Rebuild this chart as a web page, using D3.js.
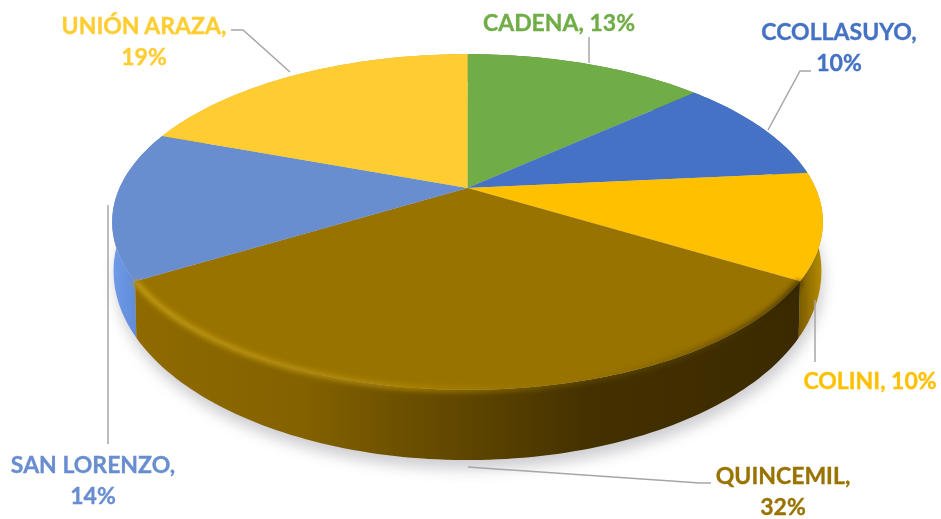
<!DOCTYPE html>
<html><head><meta charset="utf-8">
<script src="https://cdnjs.cloudflare.com/ajax/libs/d3/7.8.5/d3.min.js"></script>
<style>html,body{margin:0;background:#fff}svg{display:block}text{font-family:Lato,"Open Sans",sans-serif;font-weight:700}</style>
</head><body><svg id="c" width="941" height="519"></svg>
<script>
// Data
const categories = ["CADENA","CCOLLASUYO","COLINI","QUINCEMIL","SAN LORENZO","UNIÓN ARAZA"];
const values = [13,10,10,32,14,19];
const colors = ["#70ad47","#4472c4","#ffc000","#997300","#698ed0","#ffcd33"];
const wallStops = [
  ["#5a8a3a","#5a8a3a"],["#3a62a8","#3a62a8"],
  ["#7d5d00","#b88f00"],["#8f6a00","#3b2a00"],
  ["#6f9bea","#527bc4"],["#d9a92a","#d9a92a"]];
const labelLines = [
  ["CADENA, 13%"],["CCOLLASUYO,","10%"],["COLINI, 10%"],
  ["QUINCEMIL,","32%"],["SAN LORENZO,","14%"],["UNIÓN ARAZA,","19%"]];

// Layout
const W=941,H=519, cx=467.5, cy=188, R=348, A=161, K=0.2024, DEPTH=56;
const labelPos=[[559,31],[839,40],[870,389],[783,484],[93,473],[144,34]];
const leaders=[
  [[589,37],[589,63]],
  [[811,71],[800,71],[768,130]],
  [[815,362],[815,300]],
  [[711,483],[700,483],[468,467]],
  [[108,444],[108,205]],
  [[231,30],[243,30],[290,72]]];

const svg=d3.select("#c");
const defs=svg.append("defs");
const blur=(id,s)=>defs.append("filter").attr("id",id).attr("x","-20%").attr("y","-20%").attr("width","140%").attr("height","140%")
  .append("feGaussianBlur").attr("stdDeviation",s);
blur("sh",7);blur("soft",2.5);blur("tiny",0.4);

const arcs=d3.pie().value(d=>d).sort(null)(values);
// perspective projection of unit-disc angle onto the page; lower=1 gives the base ring
function proj(a,r=1,lower=0){
  const X=r*Math.sin(a),Y=-r*Math.cos(a),s=1/(1-K*Y);
  return [cx+R*X*s*(1-0.004*lower), cy+A*Y*s+lower*DEPTH*s*(0.8+0.2*Y)];
}
const line=d3.line();
const samples=(a0,a1,l=0)=>{const n=Math.max(2,Math.ceil((a1-a0)/0.02));
  return d3.range(n+1).map(i=>proj(a0+(a1-a0)*i/n,1,l));};
const ring=(l)=>samples(0,2*Math.PI,l);

// shadow
svg.append("path").attr("d",line(ring(1))+"Z").attr("fill","#b9b9bf").attr("opacity",.7)
  .attr("transform","translate(2,9)").attr("filter","url(#sh)");

// walls, back to front
const order=[0,1,5,4,2,3];
order.forEach(i=>{
  const d=arcs[i],id="w"+i;
  const top=samples(d.startAngle,d.endAngle,0),bot=samples(d.startAngle,d.endAngle,1).reverse();
  const xs=top.map(p=>p[0]);
  const g=defs.append("linearGradient").attr("id",id).attr("gradientUnits","userSpaceOnUse")
    .attr("x1",d3.min(xs)).attr("x2",d3.max(xs)).attr("y1",0).attr("y2",0);
  if(i===3){
    [[0,"#8f6a00"],[.25,"#846200"],[.5,"#5e4500"],[.68,"#443100"],[1,"#3b2a00"]].forEach(s=>g.append("stop").attr("offset",s[0]).attr("stop-color",s[1]));
  } else {
    g.append("stop").attr("offset",0).attr("stop-color",wallStops[i][0]);
    g.append("stop").attr("offset",1).attr("stop-color",wallStops[i][1]);
  }
  svg.append("path").attr("d",line(top.concat(bot))+"Z").attr("fill",`url(#${id})`);
});

const pie=svg.append("g").attr("filter","url(#tiny)");
arcs.forEach((d,i)=>{
  const pts=[proj(0,0)].concat(samples(d.startAngle,d.endAngle,0));
  pie.append("path").attr("d",line(pts)+"Z").attr("fill",colors[i]);
});
// bevel highlight along the front edge of the large slice
const q=arcs[3];
const hg=defs.append("linearGradient").attr("id","hl").attr("gradientUnits","userSpaceOnUse")
  .attr("x1",proj(q.endAngle)[0]).attr("x2",proj(q.startAngle)[0]).attr("y1",0).attr("y2",0);
[[0,"#c29a10",.95],[.4,"#b08a08",.8],[.7,"#8a6a00",.3],[1,"#2a1e00",.7]].forEach(s=>hg.append("stop").attr("offset",s[0]).attr("stop-color",s[1]).attr("stop-opacity",s[2]));
svg.append("path").attr("d",line(samples(q.startAngle,q.endAngle,0))).attr("fill","none")
  .attr("stroke","url(#hl)").attr("stroke-width",6).attr("filter","url(#soft)");

// leaders
leaders.forEach(l=>svg.append("path").attr("d",line(l)).attr("fill","none").attr("stroke","#a6a6a6").attr("stroke-width",1.5));

// labels
const lg=svg.append("g").attr("filter","url(#tiny)");
categories.forEach((c,i)=>{
  const t=lg.append("text").attr("x",labelPos[i][0]).attr("y",labelPos[i][1]).attr("text-anchor","middle")
    .attr("font-size",23).attr("fill",colors[i]).attr("stroke",colors[i]).attr("stroke-width",.35);
  labelLines[i].forEach((s,j)=>t.append("tspan").attr("x",labelPos[i][0]).attr("dy",j?31:0).text(s));
});
</script></body></html>
